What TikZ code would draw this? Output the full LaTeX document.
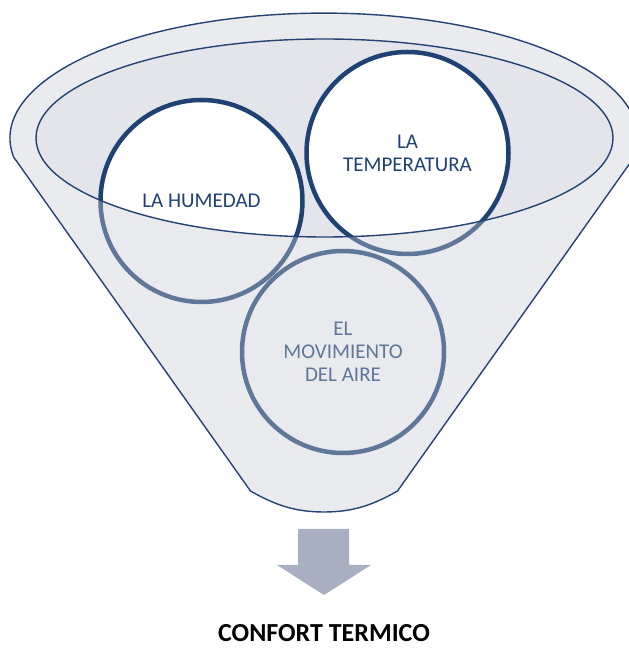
\documentclass[tikz,border=0pt]{standalone}
\usepackage{fontspec}
\setmainfont{Carlito}
\definecolor{navy}{RGB}{31,66,117}
\definecolor{rimnavy}{RGB}{36,66,116}
\definecolor{coverc}{RGB}{198,203,211}
\definecolor{innerc}{RGB}{227,229,234}
\definecolor{arrowc}{RGB}{168,175,192}
\begin{document}
\begin{tikzpicture}[x=1pt,y=1pt,
  circ/.style={circle, draw=navy, line width=4.5pt, fill=white, minimum size=202pt,
    inner sep=0pt, text=navy, align=center, font=\fontsize{21}{23}\selectfont},
  outline/.style={draw=rimnavy, line width=1.4pt},
  cover/.style={fill=coverc, fill opacity=0.39, even odd rule}]
\useasboundingbox (0,0) rectangle (629,648);
\clip (0,0) rectangle (629,648);
\def\funnelpath{(250.5,157) -- (13.6,491) arc[start angle=188.7, end angle=-8.7, x radius=314, y radius=125]
  -- (397.5,157) .. controls (373,143) and (353,136) .. (324,136)
  .. controls (295,136) and (275,143) .. (250.5,157) -- cycle}
% inner mouth
\fill[innerc] (324.5,510) ellipse[x radius=288.5, y radius=99];
% circles
\node[circ] (hum) at (201.5,447) {LA HUMEDAD};
\node[circ] (temp) at (407.5,495) {LA\\TEMPERATURA};
\node[circ] (mov) at (343,296) {EL\\MOVIMIENTO\\DEL AIRE};
% front cover of the funnel
\path[cover] \funnelpath (324.5,510) ellipse[x radius=288.5, y radius=99];
% outlines
\draw[outline] \funnelpath;
\draw[outline] (324.5,510) ellipse[x radius=288.5, y radius=99];
% arrow
\fill[arrowc] (298,119) -- (349,119) -- (349,83) -- (371,83) -- (324,53) -- (277,83) -- (298,83) -- cycle;
\node[font=\bfseries\fontsize{26}{30}\selectfont, anchor=base, inner sep=0pt] (conf) at (324,6) {CONFORT TERMICO};
\end{tikzpicture}
\end{document}
